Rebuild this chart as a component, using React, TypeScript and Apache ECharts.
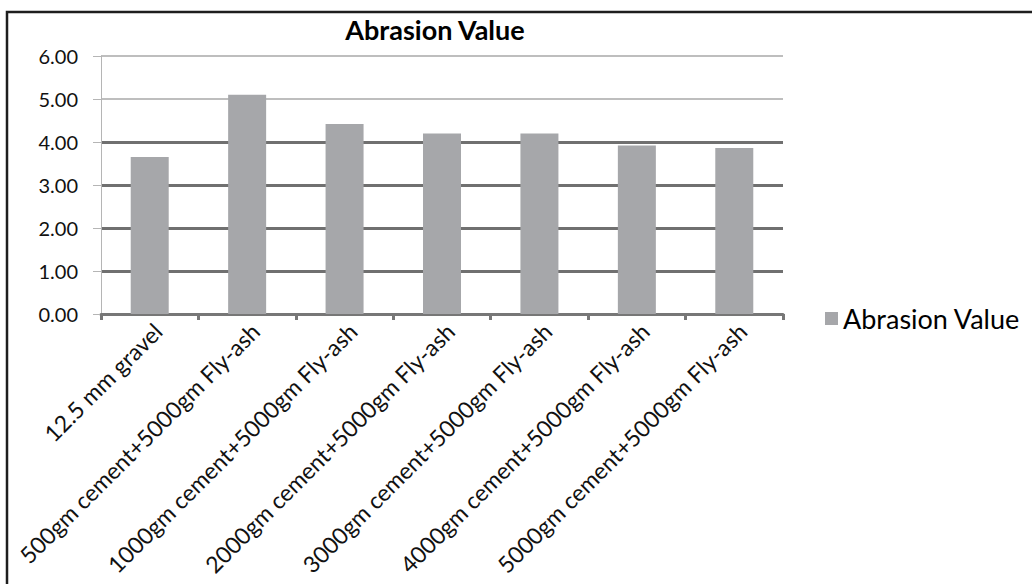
import React, { useEffect, useRef } from "react";
import * as echarts from "echarts";

// Abrasion test results per mix
const categories: string[] = [
  "12.5 mm gravel",
  "500gm cement+5000gm Fly-ash",
  "1000gm cement+5000gm Fly-ash",
  "2000gm cement+5000gm Fly-ash",
  "3000gm cement+5000gm Fly-ash",
  "4000gm cement+5000gm Fly-ash",
  "5000gm cement+5000gm Fly-ash",
];
const abrasionValues: number[] = [3.65, 5.1, 4.42, 4.2, 4.2, 3.92, 3.86];

const seriesName = "Abrasion Value";
const chartTitle = "Abrasion Value";

const FONT = "Lato, 'Open Sans', sans-serif";
const BAR = "#a6a7aa";
const DARK_GRID = "#707070";
const LIGHT_GRID = "#a9a9a9";

export default function App() {
  const ref = useRef<HTMLDivElement>(null);

  useEffect(() => {
    if (!ref.current) return;
    const chart = echarts.init(ref.current, null, { renderer: "svg" });
    const T = "transparent";
    chart.setOption({
      animation: false,
      backgroundColor: "#ffffff",
      textStyle: { fontFamily: FONT },
      title: {
        text: chartTitle,
        left: 435,
        top: 16,
        padding: 0,
        textAlign: "center",
        textStyle: { fontFamily: FONT, fontWeight: "bold", fontSize: 27, color: "#000" },
      },
      legend: {
        left: 825,
        top: 305,
        padding: 0,
        itemWidth: 13,
        itemHeight: 13,
        icon: "rect",
        itemGap: 8,
        textStyle: { fontFamily: FONT, fontSize: 27, color: "#000", padding: [0, 0, 0, 0] },
        data: [seriesName],
      },
      grid: { left: 101, right: 249, top: 56, bottom: 270, containLabel: false },
      xAxis: {
        type: "category",
        data: categories,
        boundaryGap: true,
        axisLine: { lineStyle: { color: "#777", width: 3 } },
        axisTick: { show: true, length: 6, lineStyle: { color: "#777", width: 3 } },
        axisLabel: {
          rotate: 45,
          interval: 0,
          margin: 5,
          verticalAlign: "top",
          fontFamily: FONT,
          fontSize: 23,
          color: "#111",
        },
      },
      yAxis: [
        {
          type: "value",
          min: 0,
          max: 6,
          interval: 1,
          axisLine: { show: true, lineStyle: { color: "#b5b5b5", width: 1 } },
          axisTick: { show: true, length: 8, lineStyle: { color: "#b5b5b5", width: 1 } },
          axisLabel: {
            margin: 23,
            fontFamily: FONT,
            fontSize: 20,
            color: "#111",
            formatter: (v: number) => v.toFixed(2),
          },
          splitLine: {
            show: true,
            lineStyle: { color: [T, DARK_GRID, DARK_GRID, DARK_GRID, DARK_GRID, T, T], width: 3 },
          },
        },
        {
          type: "value",
          min: 0,
          max: 6,
          interval: 1,
          position: "left",
          axisLine: { show: false },
          axisTick: { show: false },
          axisLabel: { show: false },
          splitLine: {
            show: true,
            lineStyle: { color: [T, T, T, T, T, LIGHT_GRID, LIGHT_GRID], width: 1.5 },
          },
        },
      ],
      series: [
        {
          name: seriesName,
          type: "bar",
          data: abrasionValues,
          barWidth: "39%",
          itemStyle: { color: BAR },
        },
      ],
      graphic: [
        {
          type: "rect",
          shape: { x: 7, y: 12, width: 1200, height: 800 },
          style: { fill: "none", stroke: "#1e1e1e", lineWidth: 2.5 },
          silent: true,
          z: 100,
        },
      ],
    });
    return () => chart.dispose();
  }, []);

  return (
    <div
      ref={ref}
      style={{ position: "absolute", left: 0, top: 0, width: 1032, height: 584 }}
    />
  );
}
